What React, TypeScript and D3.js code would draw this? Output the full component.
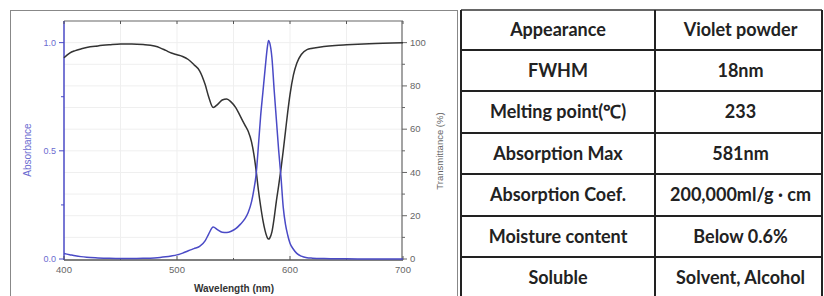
import React from "react";
import * as d3 from "d3";

const wavelengths = [400, 405, 410, 415, 420, 430, 440, 450, 460, 470, 480, 485, 490, 495, 500, 505, 510, 515, 520, 525, 528, 532, 536, 540, 544, 548, 552, 556, 560, 563, 566, 568, 570, 572, 574, 576, 578, 580, 581, 582, 584, 586, 588, 590, 592, 594, 596, 598, 600, 603, 606, 610, 615, 620, 630, 640, 650, 670, 700];
const absorbance = [0.025, 0.02, 0.015, 0.011, 0.008, 0.005, 0.003, 0.002, 0.002, 0.003, 0.005, 0.007, 0.01, 0.014, 0.019, 0.027, 0.038, 0.048, 0.058, 0.085, 0.115, 0.148, 0.135, 0.124, 0.122, 0.128, 0.14, 0.16, 0.185, 0.215, 0.265, 0.32, 0.39, 0.52, 0.66, 0.77, 0.88, 0.98, 1.01, 1.0, 0.93, 0.78, 0.64, 0.5, 0.38, 0.24, 0.16, 0.11, 0.073, 0.045, 0.026, 0.013, 0.006, 0.004, 0.002, 0.001, 0.001, 0.0, 0.0];
const transmittance = [93, 95.2, 96.3, 97.1, 97.8, 98.5, 99, 99.4, 99.4, 99.1, 98.4, 97.6, 96.4, 95.2, 94.4, 93.6, 92.2, 89.8, 87, 80.5, 75, 70, 71.5, 73.5, 74, 72.5, 70, 66, 62, 59, 54, 48.5, 41, 32, 24.5, 18, 13, 9.8, 9.2, 9.6, 12.5, 19, 27, 34, 41.5, 50, 59, 68, 76, 85, 90.5, 94.5, 96.8, 97.4, 98.2, 98.7, 99, 99.5, 100];

const xTicks = [400, 500, 600, 700];
const xMinorTicks = [450, 550, 650];
const absTicks = [0, 0.5, 1.0];
const absMinorTicks = [0.25, 0.75];
const transTicks = [0, 20, 40, 60, 80, 100];
const transMinorTicks = [10, 30, 50, 70, 90];

const tableLabels = ["Appearance", "FWHM", "Melting point(\u2103)", "Absorption Max", "Absorption Coef.", "Moisture content", "Soluble"];
const tableValues = ["Violet powder", "18nm", "233", "581nm", "200,000ml/g \u00b7 cm", "Below 0.6%", "Solvent, Alcohol"];
const rowEdges = [10, 50, 91, 133, 174, 216, 257, 298];

export default function App() {
  const x = d3.scaleLinear().domain([400, 700]).range([64, 403]);
  const yA = d3.scaleLinear().domain([0, 1.1]).range([259, 21]);
  const yT = d3.scaleLinear().domain([0, 110]).range([259, 21]);

  const absLine = d3
    .line<number>()
    .x((_, i) => x(wavelengths[i]))
    .y((d) => yA(d))
    .curve(d3.curveMonotoneX);
  const transLine = d3
    .line<number>()
    .x((_, i) => x(wavelengths[i]))
    .y((d) => yT(d))
    .curve(d3.curveMonotoneX);

  const blue = "#4a4ac6";
  const blueText = "#6b6bd0";
  const font = "'Liberation Sans', Arial, sans-serif";

  const gridH = d3.range(1, 11).map((v) => v / 10);
  const gridV = [450, 500, 550, 600, 650];

  const colX = [461, 655, 822];

  return (
    <svg width={824} height={296} style={{ position: "absolute", left: 0, top: 0, background: "#fff" }}>
      {/* outer frame */}
      <rect x={10.5} y={10.5} width={447} height={295} fill="none" stroke="#888" strokeWidth={1} />

      {/* grid */}
      {gridH.map((v) => (
        <line key={"gh" + v} x1={64} x2={403} y1={yA(v)} y2={yA(v)} stroke="#efefef" strokeWidth={1} />
      ))}
      {gridV.map((v) => (
        <line key={"gv" + v} x1={x(v)} x2={x(v)} y1={21} y2={260} stroke="#efefef" strokeWidth={1} />
      ))}

      {/* frame of plot */}
      <line x1={64} x2={403} y1={21} y2={21} stroke="#666" strokeWidth={1.2} />
      <line x1={64} x2={403} y1={260} y2={260} stroke="#555" strokeWidth={1.5} />
      <line x1={402} x2={402} y1={21} y2={260} stroke="#666" strokeWidth={1.2} />
      <line x1={64} x2={64} y1={21} y2={260} stroke={blue} strokeWidth={1.5} />

      {/* x ticks */}
      {xTicks.map((v) => (
        <g key={"xt" + v}>
          <line x1={x(v)} x2={x(v)} y1={260} y2={256} stroke="#555" strokeWidth={1} />
          <line x1={x(v)} x2={x(v)} y1={21} y2={24} stroke="#555" strokeWidth={1} />
          <text x={x(v)} y={273} textAnchor="middle" fontSize={9.5} fill="#666" fontFamily={font}>
            {v}
          </text>
        </g>
      ))}
      {xMinorTicks.map((v) => (
        <g key={"xm" + v}>
          <line x1={x(v)} x2={x(v)} y1={260} y2={258} stroke="#555" strokeWidth={1} />
          <line x1={x(v)} x2={x(v)} y1={21} y2={24} stroke="#555" strokeWidth={1} />
        </g>
      ))}

      {/* left ticks */}
      {absTicks.map((v) => (
        <g key={"at" + v}>
          <line x1={64} x2={59} y1={yA(v)} y2={yA(v)} stroke={blue} strokeWidth={1} />
          <text x={56} y={yA(v) + 3} textAnchor="end" fontSize={9} fill={blueText} fontFamily={font}>
            {v.toFixed(1)}
          </text>
        </g>
      ))}
      {absMinorTicks.map((v) => (
        <line key={"am" + v} x1={64} x2={61} y1={yA(v)} y2={yA(v)} stroke={blue} strokeWidth={1} />
      ))}

      {/* right ticks */}
      {transTicks.map((v) => (
        <g key={"tt" + v}>
          <line x1={402} x2={407} y1={yT(v)} y2={yT(v)} stroke="#666" strokeWidth={1} />
          <text x={410} y={yT(v) + 3.2} textAnchor="start" fontSize={9.5} fill="#666" fontFamily={font}>
            {v}
          </text>
        </g>
      ))}
      {transMinorTicks.map((v) => (
        <line key={"tm" + v} x1={402} x2={405} y1={yT(v)} y2={yT(v)} stroke="#666" strokeWidth={1} />
      ))}

      {/* curves */}
      <path d={transLine(transmittance) || ""} fill="none" stroke="#333" strokeWidth={1.5} />
      <path d={absLine(absorbance) || ""} fill="none" stroke={blue} strokeWidth={1.5} />

      {/* axis titles */}
      <text x={234} y={292} textAnchor="middle" fontSize={10} fontWeight="bold" fill="#333" fontFamily={font}>
        Wavelength (nm)
      </text>
      <text
        transform={`translate(31,150) rotate(-90)`}
        textAnchor="middle"
        fontSize={10}
        fill={blueText}
        fontFamily={font}
      >
        Absorbance
      </text>
      <text
        transform={`translate(443,151) rotate(-90)`}
        textAnchor="middle"
        fontSize={9.5}
        fill="#666"
        fontFamily={font}
      >
        Transmittance (%)
      </text>

      {/* table */}
      <line x1={461} x2={822} y1={10} y2={10} stroke="#333" strokeWidth={1.5} />
      {rowEdges.slice(1).map((y, i) => (
        <line key={"re" + i} x1={461} x2={822} y1={y} y2={y} stroke="#222" strokeWidth={2} />
      ))}
      {colX.map((cx, i) => (
        <line key={"cx" + i} x1={cx} x2={cx} y1={10} y2={298} stroke="#222" strokeWidth={2} />
      ))}
      {tableLabels.map((t, i) => {
        const cy = (rowEdges[i] + rowEdges[i + 1]) / 2;
        return (
          <g key={"row" + i}>
            <text
              x={(colX[0] + colX[1]) / 2}
              y={cy + 6}
              textAnchor="middle"
              fontSize={18}
              fontWeight="bold"
              fill="#222"
              fontFamily="Lato, 'Open Sans', sans-serif"
            >
              {t}
            </text>
            <text
              x={(colX[1] + colX[2]) / 2 + 2}
              y={cy + 6}
              textAnchor="middle"
              fontSize={18}
              fontWeight="bold"
              fill="#222"
              fontFamily="Lato, 'Open Sans', sans-serif"
            >
              {tableValues[i]}
            </text>
          </g>
        );
      })}
    </svg>
  );
}
